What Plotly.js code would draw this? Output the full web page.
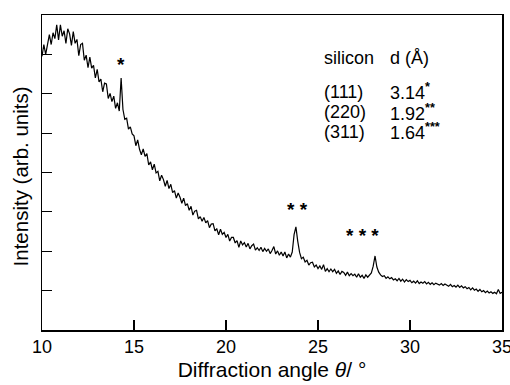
<!DOCTYPE html>
<html>
<head>
<meta charset="utf-8">
<script src="https://cdn.plot.ly/plotly-3.0.1.min.js"></script>
<style>html,body{margin:0;padding:0;background:#fff;}#chart{width:510px;height:385px;}</style>
</head>
<body>
<div id="chart"></div>
<script>
// Diffraction angle sampling: start and step (degrees)
var thetaStart = 10.0;
var thetaStep = 0.1;
// Intensity (arb. units), theta = 10.0 ... 35.0
var intensity = [
  6.95, 7.25, 7.00, 7.30, 7.50, 7.25, 7.55, 7.40, 7.75, 7.37,
  7.75, 7.46, 7.60, 7.28, 7.65, 7.52, 7.23, 7.58, 7.28, 7.38,
  6.97, 7.25, 7.28, 6.85, 6.98, 6.66, 6.93, 6.65, 6.72, 6.40,
  6.62, 6.30, 6.37, 6.05, 6.27, 6.25, 5.88, 6.01, 5.80, 5.94,
  5.63, 5.77, 5.56, 6.40, 5.60, 5.35, 5.38, 5.10, 5.16, 4.98,
  4.93, 4.68, 4.83, 4.59, 4.45, 4.60, 4.41, 4.48, 4.19, 4.27,
  4.07, 4.21, 3.99, 4.03, 3.79, 3.93, 3.82, 3.65, 3.80, 3.59,
  3.70, 3.49, 3.54, 3.35, 3.48, 3.37, 3.22, 3.35, 3.16, 3.21,
  3.04, 3.14, 2.92, 3.02, 3.04, 2.82, 2.88, 2.76, 2.86, 2.72,
  2.78, 2.60, 2.69, 2.70, 2.52, 2.57, 2.42, 2.56, 2.43, 2.48,
  2.35, 2.43, 2.26, 2.35, 2.35, 2.21, 2.27, 2.10, 2.26, 2.16,
  2.22, 2.11, 2.20, 2.06, 2.14, 2.18, 2.03, 2.09, 2.02, 2.10,
  1.99, 2.07, 2.00, 2.06, 1.94, 2.02, 2.12, 1.93, 2.01, 1.90,
  1.98, 1.88, 1.98, 1.83, 1.93, 1.85, 1.98, 2.42, 2.62, 2.25,
  1.97, 1.81, 1.85, 1.73, 1.77, 1.65, 1.71, 1.72, 1.60, 1.65,
  1.56, 1.63, 1.54, 1.66, 1.49, 1.56, 1.48, 1.55, 1.48, 1.54,
  1.44, 1.50, 1.41, 1.49, 1.46, 1.39, 1.47, 1.38, 1.43, 1.38,
  1.42, 1.34, 1.43, 1.34, 1.39, 1.31, 1.40, 1.34, 1.40, 1.45,
  1.62, 1.88, 1.60, 1.47, 1.40, 1.36, 1.38, 1.31, 1.35, 1.30,
  1.33, 1.27, 1.30, 1.25, 1.31, 1.24, 1.29, 1.22, 1.28, 1.23,
  1.26, 1.20, 1.24, 1.19, 1.25, 1.18, 1.22, 1.19, 1.23, 1.17,
  1.21, 1.16, 1.20, 1.15, 1.19, 1.16, 1.14, 1.18, 1.13, 1.17,
  1.15, 1.11, 1.16, 1.10, 1.13, 1.09, 1.14, 1.08, 1.12, 1.07,
  1.10, 1.05, 1.08, 1.02, 1.07, 1.01, 1.04, 0.98, 1.03, 0.97,
  1.00, 0.95, 0.99, 0.94, 0.97, 0.93, 0.96, 0.92, 1.03, 0.93,
  0.96
];
// Peak markers
var peakMarkX = [14.28, 23.88, 27.4];
var peakMarkY = [6.75, 3.05, 2.41];
var peakMarkText = ['*', '* *', '* * *'];
// Table of silicon reflections
var tableHeader = ['silicon', 'd (Å)'];
var reflections = ['(111)', '(220)', '(311)'];
var dSpacings = ['3.14', '1.92', '1.64'];
var dMarks = ['*', '**', '***'];
// Axis ticks and titles
var xTicks = [10, 15, 20, 25, 30, 35];
var yTicks = [1, 2, 3, 4, 5, 6, 7];
var xTitle = 'Diffraction angle <i>θ</i>/ °';
var yTitle = 'Intensity (arb. units)';

var font = 'Liberation Sans, Arial, Helvetica, sans-serif';

var annotations = [];
for (var i = 0; i < peakMarkX.length; i++) {
  annotations.push({x: peakMarkX[i], y: peakMarkY[i], xref: 'x', yref: 'y', text: '<b>' + peakMarkText[i] + '</b>',
    showarrow: false, font: {family: font, size: 19, color: '#000'}, xanchor: 'center', yanchor: 'middle'});
}
var rowY = [0.756, 0.692, 0.629];
annotations.push({x: 0.608, y: 0.863, xref: 'paper', yref: 'paper', text: tableHeader[0], showarrow: false,
  xanchor: 'left', yanchor: 'middle', font: {family: font, size: 18, color: '#000'}});
annotations.push({x: 0.752, y: 0.863, xref: 'paper', yref: 'paper', text: tableHeader[1], showarrow: false,
  xanchor: 'left', yanchor: 'middle', font: {family: font, size: 18, color: '#000'}});
for (var j = 0; j < reflections.length; j++) {
  annotations.push({x: 0.608, y: rowY[j], xref: 'paper', yref: 'paper', text: reflections[j], showarrow: false,
    xanchor: 'left', yanchor: 'middle', font: {family: font, size: 18, color: '#000'}});
  annotations.push({x: 0.752, y: rowY[j], xref: 'paper', yref: 'paper', text: dSpacings[j] + '<sup><b>' + dMarks[j] + '</b></sup>',
    showarrow: false, xanchor: 'left', yanchor: 'middle', font: {family: font, size: 18, color: '#000'}});
}
// y-axis title as a rotated annotation (placed like the reference)
annotations.push({x: -0.046, y: 0.487, xref: 'paper', yref: 'paper', text: yTitle, textangle: -90, showarrow: false,
  xanchor: 'center', yanchor: 'middle', font: {family: font, size: 20.5, color: '#000'}});

var trace = {
  type: 'scatter', mode: 'lines', x0: thetaStart, dx: thetaStep, y: intensity,
  line: {color: '#000', width: 1.2}, hoverinfo: 'skip'
};

var layout = {
  width: 510, height: 385,
  margin: {l: 42, r: 8, t: 15, b: 55},
  paper_bgcolor: '#fff', plot_bgcolor: '#fff',
  showlegend: false,
  font: {family: font, size: 18, color: '#000'},
  xaxis: {
    range: [9.9999, 35.0001], tickvals: xTicks, ticktext: xTicks.map(String),
    ticks: 'inside', ticklen: 10, tickwidth: 1.2, tickcolor: '#000',
    ticklabeloverflow: 'allow',
    showline: true, linecolor: '#000', linewidth: 1.5, mirror: true,
    showgrid: false, zeroline: false,
    tickfont: {family: font, size: 18, color: '#000'},
    title: {text: xTitle, font: {family: font, size: 21, color: '#000'}, standoff: 6}
  },
  yaxis: {
    range: [0, 8], tickvals: yTicks, showticklabels: false,
    ticks: 'inside', ticklen: 10, tickwidth: 1.2, tickcolor: '#000',
    showline: true, linecolor: '#000', linewidth: 1.5, mirror: true,
    showgrid: false, zeroline: false
  },
  annotations: annotations
};

Plotly.newPlot('chart', [trace], layout, {displayModeBar: false, staticPlot: true});
</script>
</body>
</html>
